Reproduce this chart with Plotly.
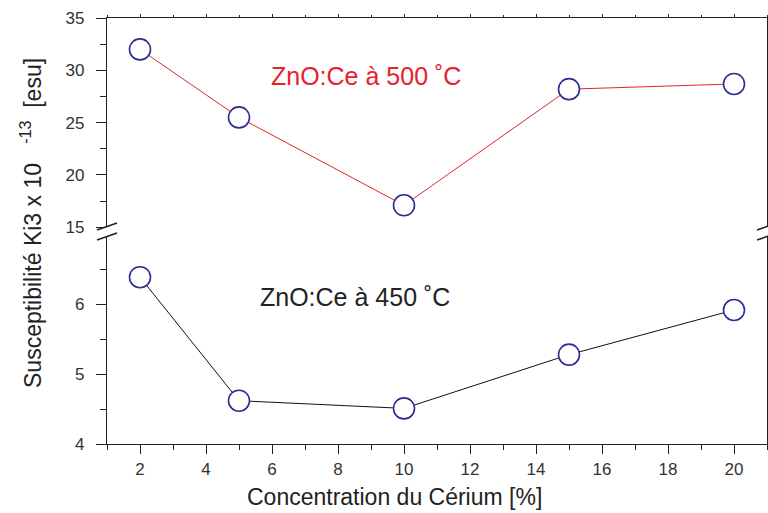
import plotly.graph_objects as go

# ---- data ----
concentration = [2, 5, 10, 15, 20]
chi3_500C = [32.0, 25.5, 17.1, 28.2, 28.7]
chi3_450C = [6.39, 4.62, 4.51, 5.28, 5.92]

x_tickvals = [2, 4, 6, 8, 10, 12, 14, 16, 18, 20]
y_low_tickvals = [4, 5, 6]
y_high_tickvals = [15, 20, 25, 30, 35]

label_500 = "ZnO:Ce à 500 ˚C"
label_450 = "ZnO:Ce à 450 ˚C"
x_title = "Concentration du Cérium [%]"
NB = "\u00a0"
y_title = "Susceptibilité Ki3 x 10" + NB * 3 + "<sup>-13</sup>" + NB * 2 + "[esu]"

FONT = "Liberation Sans, Arial, Helvetica, sans-serif"
AX = "#222222"
NAVY = "#2b2d92"
RED = "#e8202a"

marker = dict(symbol="circle", size=21, color="white",
              line=dict(color=NAVY, width=1.6))

fig = go.Figure()
fig.add_trace(go.Scatter(x=concentration, y=chi3_450C, mode="lines+markers",
                         line=dict(color="#111111", width=1), marker=marker,
                         xaxis="x", yaxis="y", showlegend=False))
fig.add_trace(go.Scatter(x=concentration, y=chi3_500C, mode="lines+markers",
                         line=dict(color=RED, width=1), marker=marker,
                         xaxis="x2", yaxis="y2", showlegend=False))

H = 426.0
low_top = (444 - 236) / H
high_bot = (444 - 227.3) / H

common_x = dict(range=[1, 21], showgrid=False, zeroline=False, showline=True,
                linecolor=AX, linewidth=1.3, automargin=False)
common_y = dict(showgrid=False, zeroline=False, showline=True, mirror=True,
                linecolor=AX, linewidth=1.3, automargin=False,
                ticks="outside", ticklen=10, tickwidth=1.3, tickcolor=AX,
                ticklabelstandoff=8, tickmode="array",
                tickfont=dict(size=17, color="#333333"))
fig.update_layout(
    width=768, height=513,
    margin=dict(l=107, r=1, t=18, b=69, autoexpand=False),
    paper_bgcolor="white", plot_bgcolor="white",
    font=dict(family=FONT, color="#333333", size=17),
    xaxis=dict(**common_x, anchor="y", tickmode="array", tickvals=x_tickvals,
               ticks="outside", ticklen=9, tickwidth=1.3, tickcolor=AX,
               minor=dict(dtick=1, tick0=1, ticks="outside", ticklen=5,
                          tickwidth=1.3, tickcolor=AX),
               tickfont=dict(size=17, color="#333333")),
    xaxis2=dict(**common_x, anchor="y2", matches="x", side="top",
                showticklabels=False, tickmode="array", tickvals=x_tickvals,
                ticks="outside", ticklen=3, tickwidth=1, tickcolor=AX,
                minor=dict(dtick=1, tick0=1, ticks="outside", ticklen=2,
                           tickwidth=1, tickcolor=AX)),
    yaxis=dict(**common_y, domain=[0, low_top], range=[4, 6.98],
               tickvals=y_low_tickvals,
               minor=dict(dtick=0.5, tick0=4, ticks="outside", ticklen=6,
                          tickwidth=1.3, tickcolor=AX)),
    yaxis2=dict(**common_y, domain=[high_bot, 1], range=[15, 35],
                tickvals=y_high_tickvals,
                minor=dict(dtick=2.5, tick0=15, ticks="outside", ticklen=6,
                           tickwidth=1.3, tickcolor=AX)),
)

# break marks on left and right axes
brk_y = [(444 - 226.5) / H, (444 - 236.5) / H]
for xa in [0, 1]:
    for yy in brk_y:
        fig.add_shape(type="line", xref="paper", yref="paper",
                      xsizemode="pixel", ysizemode="pixel",
                      xanchor=xa, yanchor=yy,
                      x0=-10, x1=10, y0=-3.5, y1=3.5,
                      line=dict(color=AX, width=1.6))

fig.add_annotation(x=8.85, y=29.5, xref="x2", yref="y2", text=label_500,
                   showarrow=False, font=dict(size=25, color=RED, family=FONT))
fig.add_annotation(x=8.52, y=6.11, xref="x", yref="y", text=label_450,
                   showarrow=False, font=dict(size=25, color="#222222", family=FONT))
fig.add_annotation(x=(394 - 107) / 660, y=(444 - 497) / H, xref="paper", yref="paper",
                   text=x_title, showarrow=False, xanchor="center", yanchor="middle",
                   font=dict(size=23, color="#222222", family=FONT))
fig.add_annotation(x=(31 - 107) / 660, y=(444 - 223) / H, xref="paper", yref="paper",
                   text=y_title, showarrow=False, textangle=-90,
                   xanchor="center", yanchor="middle",
                   font=dict(size=23, color="#222222", family=FONT))

fig.write_html(
    "out.html",
    config={"displayModeBar": False},
    post_script="document.body.style.margin='0';document.body.style.overflow='hidden';",
)
